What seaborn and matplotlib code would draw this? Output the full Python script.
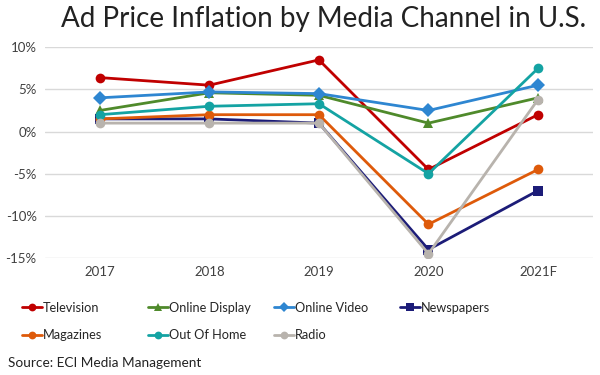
import pandas as pd
import matplotlib.pyplot as plt
import seaborn as sns

years = ['2017', '2018', '2019', '2020', '2021F']
television = [6.4, 5.5, 8.5, -4.5, 2.0]
online_display = [2.5, 4.6, 4.3, 1.0, 4.0]
online_video = [4.0, 4.7, 4.5, 2.5, 5.5]
newspapers = [1.5, 1.5, 1.0, -14.0, -7.0]
magazines = [1.5, 2.0, 2.0, -11.0, -4.5]
out_of_home = [2.0, 3.0, 3.3, -5.0, 7.5]
radio = [1.0, 1.0, 1.0, -14.5, 3.8]

series = {'Television': television, 'Online Display': online_display,
          'Online Video': online_video, 'Newspapers': newspapers,
          'Magazines': magazines, 'Out Of Home': out_of_home, 'Radio': radio}
rows = []
for name, vals in series.items():
    for y, v in zip(years, vals):
        rows.append({'year': y, 'value': v, 'channel': name})
data = pd.DataFrame(rows)

colors = {'Television': '#C00000', 'Online Display': '#4F8A2B', 'Online Video': '#2E86D1',
          'Newspapers': '#1C1C78', 'Magazines': '#DE5A0A', 'Out Of Home': '#14A3A3',
          'Radio': '#B8B3AD'}
markers = {'Television': 'o', 'Online Display': '^', 'Online Video': 'D', 'Newspapers': 's',
           'Magazines': 'o', 'Out Of Home': 'o', 'Radio': 'o'}

sns.set_style('white')
plt.rcParams['font.family'] = ['Lato', 'DejaVu Sans']

fig = plt.figure(figsize=(6, 3.75), dpi=100)
ax = fig.add_axes([0.075, 0.312, 0.913, 0.562])

sns.lineplot(ax=ax, data=data, x='year', y='value', hue='channel', style='channel',
             palette=colors, markers=markers, dashes=False, linewidth=2,
             markersize=7, markeredgewidth=0, sort=False)

ax.set_xlim(-0.5, 4.5)
ax.set_ylim(-15, 10)
ax.set_yticks([-15, -10, -5, 0, 5, 10])
ax.set_yticklabels(['-15%', '-10%', '-5%', '0%', '5%', '10%'])
ax.grid(axis='y', color='#D9D9D9', linewidth=1)
ax.set_axisbelow(True)
sns.despine(ax=ax, left=True, bottom=True)
ax.tick_params(length=0, labelsize=9.5, colors='#404040', pad=6)
ax.set_xlabel('')
ax.set_ylabel('')

fig.text(0.54, 0.985, 'Ad Price Inflation by Media Channel in U.S.', ha='center', va='top',
         fontsize=20, color='#222222')

handles, labels = ax.get_legend_handles_labels()
ax.get_legend().remove()
lookup = dict(zip(labels, handles))
columns = [['Television', 'Magazines'], ['Online Display', 'Out Of Home'],
           ['Online Video', 'Radio'], ['Newspapers']]
col_x = [22, 148, 274, 400]
for names, x in zip(columns, col_x):
    fig.legend([lookup[k] for k in names], names, loc='upper left',
               bbox_to_anchor=(x / 600, 0.195), frameon=False, fontsize=9.2,
               handlelength=1.6, handletextpad=0.05, labelspacing=1.2,
               borderpad=0, borderaxespad=0, markerscale=0.8)

fig.text(0.013, 0.022, 'Source: ECI Media Management', fontsize=9.8, color='#222222')

fig.savefig('out.png', dpi=100)
